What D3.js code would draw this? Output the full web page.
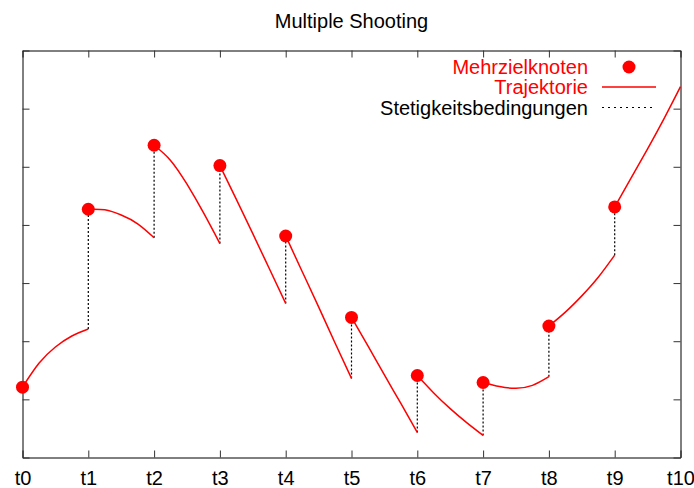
<!DOCTYPE html>
<html>
<head>
<meta charset="utf-8">
<script src="https://cdn.jsdelivr.net/npm/d3@7"></script>
<style>
  body { margin: 0; background: #fff; }
  text { font-family: "Liberation Sans", Arial, sans-serif; }
</style>
</head>
<body>
<script>
// time grid labels
const tLabels = ['t0', 't1', 't2', 't3', 't4', 't5', 't6', 't7', 't8', 't9', 't10']

// multiple shooting nodes (value at start of each interval)
const nodeValues = [1.21, 4.27, 5.37, 5.02, 3.81, 2.41, 1.41, 1.29, 2.26, 4.31]

// trajectory samples inside each interval, at these fractions of the interval
const sampleFractions = [0, 0.25, 0.5, 0.75, 1]
const segments = [
  [1.21, 1.62, 1.90, 2.09, 2.21],
  [4.27, 4.26, 4.17, 4.02, 3.78],
  [5.37, 5.11, 4.70, 4.21, 3.68],
  [5.02, 4.44, 3.85, 3.25, 2.65],
  [3.81, 3.20, 2.59, 1.97, 1.36],
  [2.41, 1.92, 1.42, 0.93, 0.43],
  [1.41, 1.11, 0.84, 0.60, 0.38],
  [1.29, 1.22, 1.19, 1.24, 1.39],
  [2.26, 2.50, 2.78, 3.10, 3.48],
  [4.31, 4.81, 5.31, 5.83, 6.38]
]

const yTicks = [0, 1, 2, 3, 4, 5, 6, 7]
const legendLabels = ['Mehrzielknoten', 'Trajektorie', 'Stetigkeitsbedingungen']

const width = 694
const height = 488
const margin = { top: 50.5, bottom: 30.5, left: 22.5, right: 13.5 }

const svg = d3.select('body')
  .append('svg')
  .attr('width', width)
  .attr('height', height)

const xScale = d3.scaleLinear()
  .domain([0, tLabels.length - 1])
  .range([margin.left, width - margin.right])

const yScale = d3.scaleLinear()
  .domain([0, 7])
  .range([height - margin.bottom, margin.top])

// title
svg.append('text')
  .attr('x', (xScale.range()[0] + xScale.range()[1]) / 2)
  .attr('y', 28)
  .attr('text-anchor', 'middle')
  .style('font-size', '20px')
  .text('Multiple Shooting')

//
// axes, ticks point inwards on all four sides
//
const tickLen = 7

const xBottom = d3.axisBottom(xScale)
  .tickValues(d3.range(tLabels.length))
  .tickFormat(i => tLabels[i])
  .tickSize(-tickLen)
  .tickSizeOuter(0)
  .tickPadding(13)

svg.append('g')
  .attr('transform', `translate(0,${yScale(0)})`)
  .call(xBottom)
  .call(g => g.selectAll('text').style('font-size', '20px').attr('fill', '#000'))

svg.append('g')
  .attr('transform', `translate(0,${yScale(7)})`)
  .call(d3.axisTop(xScale).tickValues(d3.range(tLabels.length)).tickFormat('').tickSize(-tickLen).tickSizeOuter(0))

svg.append('g')
  .attr('transform', `translate(${xScale(0)},0)`)
  .call(d3.axisLeft(yScale).tickValues(yTicks).tickFormat('').tickSize(-tickLen).tickSizeOuter(0))

svg.append('g')
  .attr('transform', `translate(${xScale(10)},0)`)
  .call(d3.axisRight(yScale).tickValues(yTicks).tickFormat('').tickSize(-tickLen).tickSizeOuter(0))

svg.selectAll('.domain').attr('stroke', '#000')
svg.selectAll('.tick line').attr('stroke', '#333')

//
// continuity conditions (dotted jumps at each node)
//
svg.append('g')
  .selectAll('line')
  .data(d3.range(1, nodeValues.length))
  .enter()
  .append('line')
  .attr('x1', i => xScale(i))
  .attr('x2', i => xScale(i))
  .attr('y1', i => yScale(segments[i - 1][sampleFractions.length - 1]))
  .attr('y2', i => yScale(nodeValues[i]))
  .attr('stroke', '#000')
  .attr('stroke-width', 1.2)
  .attr('stroke-dasharray', '2,2')

//
// trajectory pieces
//
const line = d3.line()
  .x(d => xScale(d[0]))
  .y(d => yScale(d[1]))
  .curve(d3.curveNatural)

svg.append('g')
  .selectAll('path')
  .data(segments)
  .enter()
  .append('path')
  .attr('d', (seg, i) => line(seg.map((v, k) => [i + sampleFractions[k], v])))
  .attr('fill', 'none')
  .attr('stroke', '#f00')
  .attr('stroke-width', 1.5)

// nodes
svg.append('g')
  .selectAll('circle')
  .data(nodeValues)
  .enter()
  .append('circle')
  .attr('cx', (d, i) => xScale(i))
  .attr('cy', d => yScale(d))
  .attr('r', 6.5)
  .attr('fill', '#f00')

//
// legend
//
const legend = svg.append('g')
const textRight = 588
const keyX1 = 602
const keyX2 = 656
const rowY = [67, 87, 107.5]

legend.selectAll('text')
  .data(legendLabels)
  .enter()
  .append('text')
  .attr('x', textRight)
  .attr('y', (d, i) => rowY[i])
  .attr('dy', '0.35em')
  .attr('text-anchor', 'end')
  .style('font-size', '20px')
  .attr('fill', (d, i) => (i < 2 ? '#f00' : '#000'))
  .text(d => d)

legend.append('circle')
  .attr('cx', (keyX1 + keyX2) / 2)
  .attr('cy', rowY[0])
  .attr('r', 6.5)
  .attr('fill', '#f00')

legend.append('line')
  .attr('x1', keyX1).attr('x2', keyX2)
  .attr('y1', rowY[1]).attr('y2', rowY[1])
  .attr('stroke', '#f00')
  .attr('stroke-width', 1.5)

legend.append('line')
  .attr('x1', keyX1).attr('x2', keyX2)
  .attr('y1', rowY[2]).attr('y2', rowY[2])
  .attr('stroke', '#000')
  .attr('stroke-width', 1)
  .attr('stroke-dasharray', '2,4')
</script>
</body>
</html>
